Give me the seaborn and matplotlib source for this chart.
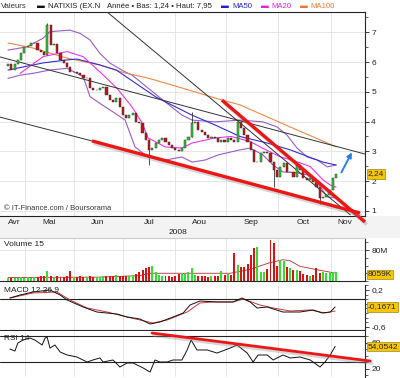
import numpy as np
import matplotlib
matplotlib.use("Agg")
import matplotlib.pyplot as plt
import matplotlib.patheffects as pe
from matplotlib.patches import Rectangle
from matplotlib.ticker import MultipleLocator
import seaborn as sns

sns.set_style("white")
plt.rcParams['font.family'] = ['Liberation Sans', 'DejaVu Sans']

# cours de clôture (un point ~ tous les 1,5 jours de bourse), avril -> fin octobre 2008
closes = [5.93, 5.73, 5.95, 6.07, 6.30, 6.50, 6.55, 6.64, 6.64, 6.40,
          6.33, 6.23, 7.24, 6.57, 6.60, 6.30, 6.07, 5.97, 5.83, 5.66,
          5.66, 5.63, 5.56, 5.46, 5.46, 5.13, 5.06, 5.06, 5.13, 5.16,
          4.90, 4.72, 4.66, 4.79, 4.49, 4.22, 4.12, 4.22, 4.29, 3.99,
          3.95, 3.62, 3.38, 3.05, 3.10, 3.28, 3.38, 3.45, 3.32, 3.21,
          3.10, 3.05, 3.00, 3.10, 3.38, 3.48, 3.95, 3.99, 3.72, 3.65,
          3.55, 3.45, 3.48, 3.45, 3.32, 3.38, 3.32, 3.45, 3.38, 3.32,
          3.99, 3.79, 3.55, 3.32, 3.05, 2.64, 2.64, 2.95, 2.98, 2.95,
          2.64, 2.37, 2.14, 2.47, 2.61, 2.31, 2.31, 2.14, 2.54, 2.37,
          2.10, 2.04, 2.10, 1.97, 1.80, 1.44, 1.47, 1.54, 1.70, 2.10,
          2.24]
first_open = 5.85

# volumes en millions
volumes = [8, 9, 8, 9, 10, 9, 10, 9, 11, 10,
           12, 12, 27, 12, 11, 13, 11, 10, 12, 27,
           11, 10, 12, 11, 10, 12, 11, 10, 11, 12,
           13, 12, 14, 15, 13, 14, 12, 13, 15, 17,
           23, 28, 33, 37, 40, 22, 16, 14, 12, 13,
           11, 14, 17, 20, 18, 22, 33, 15, 13, 12,
           13, 11, 12, 13, 14, 27, 16, 18, 15, 71,
           42, 35, 35, 44, 67, 86, 88, 24, 22, 30,
           106, 97, 40, 55, 51, 37, 33, 28, 29, 25,
           18, 15, 14, 16, 33, 20, 22, 20, 24, 22,
           24]

# quelques mèches visibles
wick_days = [12, 43, 56, 81, 95]
wick_lo = [6.23, 2.54, 3.48, 1.80, 1.24]
wick_hi = [7.30, 3.40, 4.32, 2.64, 1.80]

# moyennes mobiles et bandes de Bollinger
ma100_days = [0, 7.6, 18, 28, 35.7, 42.7, 53, 63.1, 70.7, 77.7, 88.1, 100]
ma100_vals = [6.64, 6.47, 6.13, 5.90, 5.63, 5.46, 5.13, 4.79, 4.56, 4.22, 3.72, 3.15]

ma50_days = [0, 10.7, 18, 21, 28, 33, 45, 56, 63, 70.7, 79, 86, 92, 96, 100]
ma50_vals = [5.73, 5.97, 6.07, 6.10, 5.90, 5.73, 4.83, 4.22, 3.89, 3.50, 3.28, 3.05, 2.80, 2.64, 2.54]

ma20_days = [3.7, 10.7, 18, 22.9, 28, 33.2, 37.8, 40.9, 42.7, 47.9, 53, 56.1,
             63.1, 68, 73.8, 77.7, 82.9, 88.1, 92.1, 96, 98.2, 100]
ma20_vals = [5.62, 6.18, 6.35, 6.18, 5.67, 5.12, 4.49, 3.95, 3.45, 3.15, 3.11, 3.28,
             3.45, 3.50, 3.33, 3.10, 2.82, 2.65, 2.49, 2.04, 1.87, 1.80]

bb_up_days = [0, 5.8, 10.7, 12.8, 18.9, 22, 25, 28, 31.1, 35.7, 37.8, 47.9,
              53, 56.1, 63.1, 70.7, 77.7, 82, 85, 88.1, 91.2, 94.2, 97.3, 100]
bb_up_vals = [6.40, 6.51, 6.80, 7.02, 7.07, 6.96, 6.74, 6.29, 5.96, 5.67, 5.56, 4.66,
              4.22, 4.05, 3.99, 4.05, 3.99, 3.82, 3.55, 3.11, 2.81, 2.71, 2.48, 2.54]

bb_lo_days = [0, 3.7, 7.6, 12.8, 18, 22.9, 25, 28, 31.1, 35.7, 38.7, 42.7, 47.9,
              53, 56.1, 60.1, 64, 70.7, 73.8, 77.7, 80.8, 83.8, 88.1, 91.2, 94.2, 97.3, 100]
bb_lo_vals = [5.45, 5.56, 5.62, 5.73, 5.79, 5.51, 4.84, 4.61, 4.39, 4.05, 3.15, 2.81, 2.71,
              2.81, 2.64, 2.71, 2.88, 3.05, 3.11, 2.88, 2.54, 2.31, 2.28, 2.21, 1.97, 1.47, 1.44]

vol_ma_days = [0, 28, 40.2, 43.3, 67.7, 73.8, 79.3, 83.8, 86, 89, 94.2, 100]
vol_ma_vals = [9, 10, 14, 20, 20, 30, 46, 55, 52, 38, 29, 20]

macd_days = [0.6, 3.7, 7.6, 12.8, 15.9, 18, 22.9, 27.1, 33.2, 36.3, 40.2, 43.3, 46.3, 50.3,
             53.4, 55.5, 58.5, 63.7, 68.6, 71.3, 73.8, 75.9, 79, 83.8, 89, 93, 95.7, 98.2, 99.7]
macd_vals = [0.027, 0.092, 0.157, 0.200, 0.092, -0.016, -0.168, -0.276, -0.319, -0.384,
             -0.427, -0.535, -0.492, -0.384, -0.297, -0.124, -0.038, -0.059, -0.059, 0.027,
             -0.059, -0.189, -0.168, -0.276, -0.276, -0.232, -0.297, -0.276, -0.1671]
signal_days = [0.6, 7.6, 14.9, 18.9, 24.1, 30.2, 36.3, 44.2, 48.5, 54.6, 58.5, 62.5,
               68.6, 71.6, 76.8, 80.8, 86, 92.1, 96.6, 99.7]
signal_vals = [0.027, 0.135, 0.157, -0.016, -0.189, -0.276, -0.384, -0.514, -0.449, -0.276,
               -0.081, -0.059, -0.059, 0.005, -0.124, -0.189, -0.254, -0.232, -0.297, -0.254]

rsi_days = [0.6, 2.1, 3.0, 4.6, 6.7, 8.2, 10.4, 11.3, 11.9, 12.8, 14.3, 15.9, 18.0, 21.0,
            24.1, 25.9, 28.0, 29.0, 32.0, 34.1, 36.3, 38.1, 41.2, 43.3, 44.8, 46.3, 48.5,
            50.3, 53.0, 54.6, 55.8, 57.6, 60.7, 63.7, 67.7, 69.8, 72.9, 74.7, 76.2, 79.0,
            80.8, 83.8, 86.0, 89.0, 92.1, 95.1, 96.6, 98.2, 99.7]
rsi_vals = [50.0, 46.9, 59.2, 63.8, 66.9, 63.8, 56.2, 66.9, 68.5, 51.5, 56.2, 45.4, 40.8, 37.7,
            30.0, 33.1, 36.2, 30.0, 33.1, 22.3, 28.5, 28.5, 20.8, 14.6, 33.1, 30.0, 30.0,
            33.1, 33.1, 48.5, 63.8, 48.5, 48.5, 43.8, 51.5, 56.2, 43.8, 30.0, 40.8, 40.8,
            33.1, 40.8, 36.2, 37.7, 33.1, 22.3, 30.0, 40.8, 54.05]

# lignes de tendance tracées à la main (jour, valeur)
trend_black = [([30.2, 104.3], [7.68, 0.87]),
               ([-2.44, 108.8], [6.17, 2.91]),
               ([-2.44, 25.6], [4.15, 3.35])]
trend_red = [([65.2, 108.8], [4.72, 0.63]),
             ([25.6, 107.3], [3.35, 0.93])]
rsi_red = ([43.9, 110.4], [74.6, 31.5])

month_edges = [5.18, 20.12, 35.06, 50.91, 66.46, 82.32, 98.48]
month_mid = [1.83, 12.5, 27.4, 43.0, 58.5, 74.1, 89.9, 102.7]
month_names = ["Avr", "Mai", "Jun", "Jul", "Aou", "Sep", "Oct", "Nov"]

days = np.arange(len(closes))
closes = np.array(closes)
opens = np.r_[first_open, closes[:-1]]
up = closes >= opens

GREEN = "#2fcc2f"
RED = "#cc1111"
GRID = "#e2e2e2"
FS = 6.0
XLIM = (-2.44, 108.8)

fig = plt.figure(figsize=(4.0, 3.78), dpi=100)
fig.patch.set_facecolor("white")
fig.patches.append(Rectangle((0, 0.3704), 1, 0.0582, transform=fig.transFigure,
                             facecolor="#f3f3f3", edgecolor="none", zorder=-5))

ax = fig.add_axes([0, 0.4286, 0.9125, 0.5397])
axv = fig.add_axes([0, 0.2566, 0.9125, 0.1138])
axm = fig.add_axes([0, 0.127, 0.9125, 0.119])
axr = fig.add_axes([0, 0.0026, 0.9125, 0.1217])

for a in (ax, axv, axm, axr):
    a.set_facecolor("white")
    a.set_xlim(*XLIM)
    a.yaxis.tick_right()
    a.tick_params(axis="y", which="major", length=3, width=0.6, pad=1.5,
                  labelsize=FS, direction="out", colors="#222222")
    a.tick_params(axis="y", which="minor", length=2, width=0.5, direction="out")
    a.set_xticks(month_edges)
    a.grid(axis="x", which="major", color=GRID, lw=0.6)
    a.spines["left"].set_visible(False)
    a.spines["right"].set_linewidth(0.8)
    a.set_axisbelow(True)

# --- panneau des cours ---
ax.set_ylim(0.83, 7.68)
ax.set_yticks(range(1, 8))
ax.yaxis.set_minor_locator(MultipleLocator(0.5))
ax.grid(axis="y", which="major", color=GRID, lw=0.6)
ax.set_xticks(month_mid, minor=True)
ax.set_xticklabels(month_names, minor=True)
ax.tick_params(axis="x", which="major", length=3, width=0.6, direction="out",
               labelbottom=False)
ax.tick_params(axis="x", which="minor", length=0, pad=2, labelsize=FS,
               labelbottom=True, colors="#222222")

sns.lineplot(x=bb_up_days, y=bb_up_vals, ax=ax, color="#9a5cc8", lw=0.8)
sns.lineplot(x=bb_lo_days, y=bb_lo_vals, ax=ax, color="#9a5cc8", lw=0.8)
sns.lineplot(x=ma100_days, y=ma100_vals, ax=ax, color="#ee8844", lw=0.8)
sns.lineplot(x=ma50_days, y=ma50_vals, ax=ax, color="#3030d0", lw=0.8)
sns.lineplot(x=ma20_days, y=ma20_vals, ax=ax, color="#ee33ee", lw=0.8)

for xs, ys in trend_black:
    ax.plot(xs, ys, color="#333333", lw=0.7, zorder=3)

ax.vlines(wick_days, wick_lo, wick_hi, color="#333333", lw=0.6, zorder=4)
ax.bar(days, closes - opens, bottom=opens, width=0.65,
       color=np.where(up, GREEN, RED), edgecolor="#333333", linewidth=0.35, zorder=5)

shadow = [pe.SimpleLineShadow(offset=(1.2, -1.8), shadow_color="#888888", alpha=0.35),
          pe.Normal()]
for xs, ys in trend_red:
    ax.plot(xs, ys, color="#ee1515", lw=2.4, solid_capstyle="butt", zorder=6,
            clip_on=False, path_effects=shadow)

ax.annotate("", xy=(105.2, 3.05), xytext=(101.2, 2.21),
            arrowprops=dict(arrowstyle="-|>", color="#2b80e6", lw=1.4, mutation_scale=7),
            zorder=7)

ax.text(0.01, 0.035, "© IT-Finance.com / Boursorama", transform=ax.transAxes,
        fontsize=5.4, color="#333333", va="center")
ax.spines["top"].set_color("#222222")
ax.spines["bottom"].set_color("#222222")

# --- volumes ---
axv.set_ylim(0, 111)
axv.bar(days, volumes, width=0.6, color=np.where(up, "#33dd33", "#dd1111"),
        edgecolor="none", zorder=3)
sns.lineplot(x=vol_ma_days, y=vol_ma_vals, ax=axv, color="#b03030", lw=0.6)
axv.set_yticks([80])
axv.set_yticklabels(["80M"])
axv.yaxis.set_minor_locator(MultipleLocator(20))
axv.grid(axis="y", which="major", color=GRID, lw=0.6)
axv.spines["top"].set_color("#cccccc")
axv.tick_params(axis="x", length=0, labelbottom=False)
axv.text(0.01, 0.82, "Volume 15", transform=axv.transAxes, fontsize=FS, color="#222222")

# --- MACD ---
axm.set_ylim(-0.665, 0.308)
axm.axhline(0, color="#222222", lw=0.8, zorder=2)
sns.lineplot(x=signal_days, y=signal_vals, ax=axm, color="#d03535", lw=0.7)
sns.lineplot(x=macd_days, y=macd_vals, ax=axm, color="#111111", lw=0.7)
axm.set_yticks([0.2, -0.6])
axm.set_yticklabels(["0,2", "-0,6"])
axm.yaxis.set_minor_locator(MultipleLocator(0.1))
axm.spines["top"].set_visible(False)
axm.tick_params(axis="x", length=0, labelbottom=False)
axm.text(0.01, 0.84, "MACD 12 26 9", transform=axm.transAxes, fontsize=FS, color="#222222")

# --- RSI ---
axr.set_ylim(6.9, 77.7)
axr.axhline(70, color="#222222", lw=0.8, zorder=2)
axr.axhline(30, color="#222222", lw=0.8, zorder=2)
sns.lineplot(x=rsi_days, y=rsi_vals, ax=axr, color="#111111", lw=0.7)
axr.plot(rsi_red[0], rsi_red[1], color="#ee1515", lw=2.0, zorder=6, clip_on=False,
         path_effects=shadow)
axr.set_yticks([20, 60])
axr.yaxis.set_minor_locator(MultipleLocator(10))
axr.spines["top"].set_visible(False)
axr.spines["bottom"].set_visible(False)
axr.tick_params(axis="x", length=0, labelbottom=False)
axr.text(0.01, 0.8, "RSI 14", transform=axr.transAxes, fontsize=FS, color="#222222")

for a in (ax, axv, axm, axr):
    a.set_xlabel("")
    a.set_ylabel("")

# étiquettes de dernière valeur
box = dict(boxstyle="square,pad=0.15", fc="#f7c600", ec="#9a8a20", lw=0.5)
for a, val, txt in [(ax, 2.24, "2,24"), (axv, 17, "8059K"),
                    (axm, -0.1671, "-0,1671"), (axr, 54.05, "54,0542")]:
    a.text(1.008, val, txt, transform=a.get_yaxis_transform(), ha="left", va="center",
           fontsize=FS, bbox=box, zorder=20, clip_on=False)

# année et en-tête
fig.text(178 / 400, 1 - 232 / 378, "2008", fontsize=FS, ha="center", va="center",
         color="#222222")
hy = 1 - 6 / 378
header = [(1, "Valeurs", "#333333"), (37, "▬", "#111111"), (48, "NATIXIS (EX.N", "#222222"),
          (107, "Année • Bas: 1,24 • Haut: 7,95", "#222222"),
          (221, "▬", "#2222cc"), (232, "MA50", "#2222cc"),
          (261, "▬", "#dd22dd"), (271, "MA20", "#dd22dd"),
          (300, "▬", "#ee7733"), (310, "MA100", "#ee7733")]
for px, txt, col in header:
    fig.text(px / 400, hy, txt, fontsize=5.6, color=col, va="center", ha="left")

fig.savefig("out.png", dpi=100)
